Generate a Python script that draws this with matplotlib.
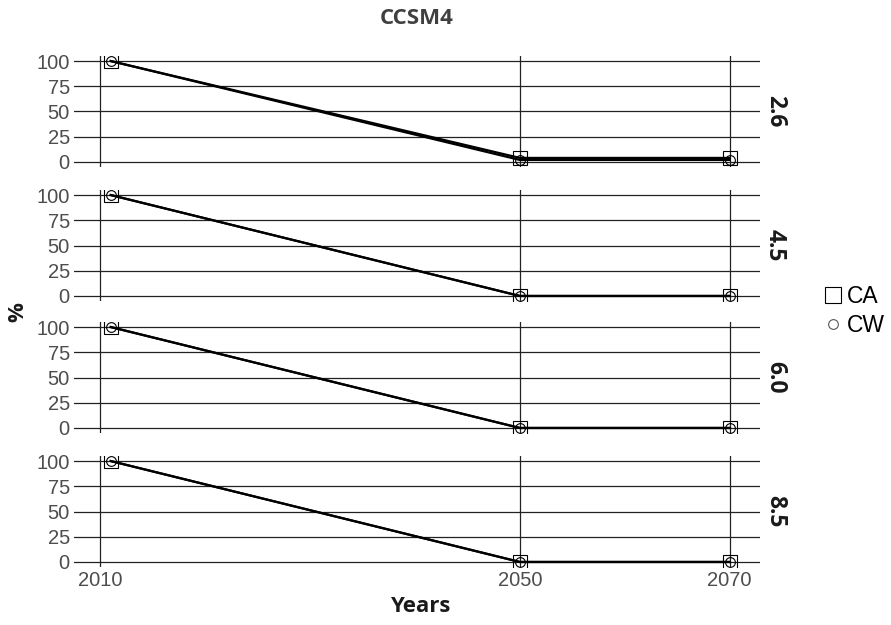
import matplotlib.pyplot as plt
from matplotlib.lines import Line2D

plt.rcParams['font.family'] = ['Liberation Sans', 'DejaVu Sans']

years = [2011, 2050, 2070]
scenarios = ['2.6', '4.5', '6.0', '8.5']
ca_values = {
    '2.6': [100, 4, 4],
    '4.5': [100, 0, 0],
    '6.0': [100, 0, 0],
    '8.5': [100, 0, 0],
}
cw_values = {
    '2.6': [100, 2, 2],
    '4.5': [100, 0, 0],
    '6.0': [100, 0, 0],
    '8.5': [100, 0, 0],
}
x_ticks = [2010, 2050, 2070]
y_ticks = [0, 25, 50, 75, 100]

fig = plt.figure(figsize=(8.91, 6.25), dpi=100)

W, H = 891, 625
left, right = 74, 760
tops = [56, 190, 322, 456]
ph = 111
grid_col = '#222222'
text_col = '#4d4d4d'
bold_fam = ['Open Sans', 'DejaVu Sans']

for i, sc in enumerate(scenarios):
    top = tops[i]
    ax = fig.add_axes([left / W, 1 - (top + ph) / H, (right - left) / W, ph / H])
    ax.set_xlim(2007.5, 2072.9)
    ax.set_ylim(-5, 105)
    for s in ax.spines.values():
        s.set_visible(False)
    ax.set_yticks(y_ticks)
    ax.set_xticks(x_ticks)
    ax.grid(True, color=grid_col, linewidth=0.9)
    ax.set_axisbelow(True)
    ax.tick_params(length=0, labelsize=14.5, labelcolor=text_col, pad=3)
    if i < 3:
        ax.set_xticklabels([])
    ax.plot(years, ca_values[sc], color='black', linewidth=1.6,
            marker='s', markersize=10, markerfacecolor='none',
            markeredgecolor='black', markeredgewidth=0.8)
    ax.plot(years, cw_values[sc], color='black', linewidth=1.6,
            marker='o', markersize=7, markerfacecolor='none',
            markeredgecolor='black', markeredgewidth=0.8)
    ax.text(1.022, 0.5, sc, transform=ax.transAxes, rotation=-90,
            ha='center', va='center', fontsize=16.5, fontweight='bold',
            color='#1a1a1a', family=bold_fam)

fig.text(417 / W, 1 - 18 / H, 'CCSM4', ha='center', va='center',
         fontsize=16, fontweight='bold', color='#404040', family=bold_fam)
fig.text(420 / W, 1 - 607 / H, 'Years', ha='center', va='center',
         fontsize=16, fontweight='bold', color='#1a1a1a', family=bold_fam)
fig.text(18 / W, 1 - 312 / H, '%', ha='center', va='center', rotation=90,
         fontsize=16, fontweight='bold', color='#1a1a1a', family=bold_fam)

handles = [
    Line2D([], [], linestyle='none', marker='s', markersize=12,
           markerfacecolor='none', markeredgecolor='black', markeredgewidth=0.8),
    Line2D([], [], linestyle='none', marker='o', markersize=7,
           markerfacecolor='none', markeredgecolor='#555555', markeredgewidth=0.8),
]
fig.legend(handles, ['CA', 'CW'], loc='center left',
           bbox_to_anchor=(816 / W, 1 - 311 / H), frameon=False,
           fontsize=16.5, handlelength=0.7, handletextpad=0.25,
           labelspacing=0.25, borderaxespad=0)

fig.savefig('out.png', dpi=100)
